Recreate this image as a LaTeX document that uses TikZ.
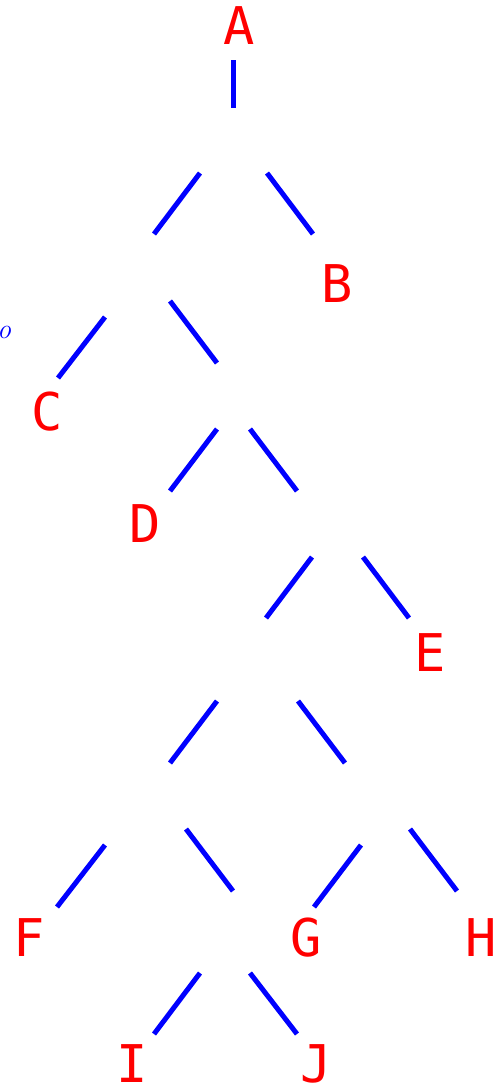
\documentclass[tikz,border=0pt]{standalone}
\usepackage{fontspec}
\setmonofont{DejaVu Sans Mono}
\usetikzlibrary{positioning}
\tikzset{
  leaf/.style={text=red,font=\ttfamily\fontsize{26}{26}\selectfont,
               anchor=base,inner sep=0pt},
  branch/.style={draw=blue,line width=2.5pt},
  stray/.style={text=blue,font=\itshape\fontsize{14}{14}\selectfont,inner sep=0pt},
}

\begin{document}
\begin{tikzpicture}[x=0.5pt,y=-0.5pt]
  \useasboundingbox (0,0) rectangle (499,1089);
  % leaf labels
  \node[leaf] (A) at (239,44) {A};
  \node[leaf] (B) at (337,302) {B};
  \node[leaf] (C) at (47,430) {C};
  \node[leaf] (D) at (145,542) {D};
  \node[leaf] (E) at (430,671) {E};
  \node[leaf] (F) at (29,956) {F};
  \node[leaf] (G) at (306,956) {G};
  \node[leaf] (H) at (481,956) {H};
  \node[leaf] (I) at (132,1082) {I};
  \node[leaf] (J) at (316,1082) {J};
  \node[stray] (o) at (4,332) {o};
  % branches: name/top/bottom
  \foreach \n/\xa/\ya/\xb/\yb in {
      r/233.5/60/233.5/108,
      aL/200/173/154/234, aR/267/173/313/234,
      bL/105/317/58/378, bR/170/301/217/363,
      cL/217/429/170/491, cR/250/429/297/491,
      dL/312/557/266/618, dR/363/557/409/618,
      eL/217/701/170/763, eR/298/701/345/763,
      fL/105/845/57/907, fR/186/829/233/891,
      gL/361/845/314/907, gR/410/829/457/891,
      hL/200/973/154/1034, hR/250/973/297/1034}{
    \coordinate (\n t) at (\xa,\ya);
    \coordinate (\n b) at (\xb,\yb);
    \draw[branch] (\n t) -- (\n b);
  }
\end{tikzpicture}
\end{document}
